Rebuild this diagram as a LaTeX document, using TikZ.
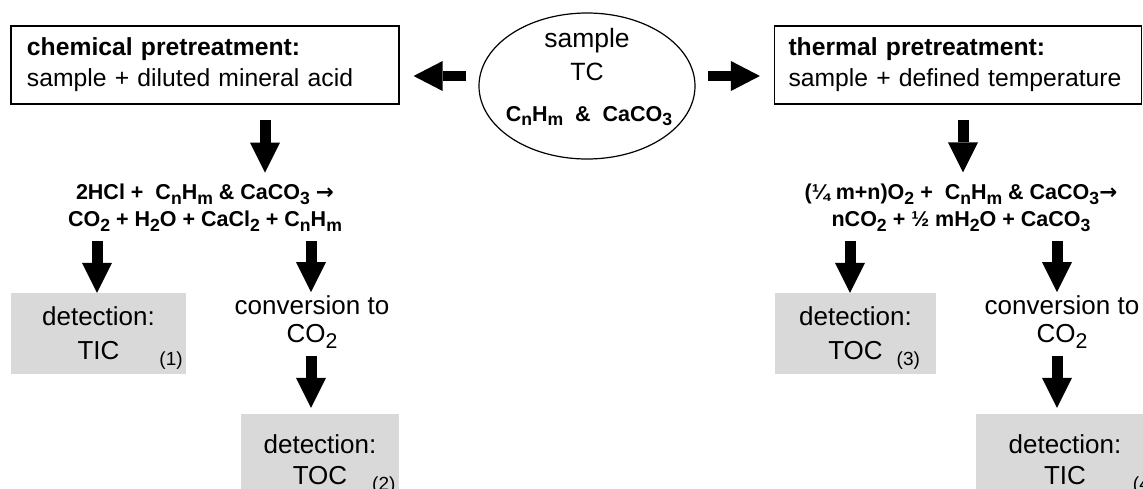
\documentclass[tikz,border=0pt]{standalone}
\usepackage{fontspec}
\setmainfont{Liberation Sans}
\newfontfamily\dvs{DejaVu Sans}
\usetikzlibrary{arrows.meta,shapes.geometric}
\definecolor{detgray}{RGB}{217,217,217}
\newcommand\sbs[1]{\raisebox{-0.42ex}{\scalebox{0.82}{#1}}}
\newcommand\rarr{{\dvs\bfseries →}}
\newcommand\fs[2]{\fontsize{#1}{#2}\selectfont}
\newcommand\numlab[1]{\raisebox{-6pt}[0pt][0pt]{\fs{19}{19}#1}}
\begin{document}
\begin{tikzpicture}[x=1pt,y=-1pt,
  box/.style={draw, line width=1.2pt, align=left, inner xsep=16pt, inner ysep=0pt,
    minimum height=78pt, font=\fs{24.7}{31}},
  detbox/.style={fill=detgray, align=center, inner sep=0pt},
  eqn/.style={align=center, inner sep=0pt, font=\bfseries\fs{21.5}{27}},
  conv/.style={align=center, inner sep=0pt, font=\fs{26}{28}},
  ctext/.style={anchor=base, inner sep=0pt},
  dn/.style={line width=11pt, -{Triangle[width=30pt,length=30pt,line width=0pt]}},
  hz/.style={line width=10.5pt, -{Triangle[width=30pt,length=29pt,line width=0pt]}}]
\clip (0,0) rectangle (1143,488);

% top row
\node[box, text width=356pt] (chem) at (205,65)
  {\textbf{chemical pretreatment:}\\sample + diluted mineral acid};
\node[box, text width=339pt, inner xsep=14pt] (therm) at (958,65)
  {\textbf{thermal pretreatment:}\\sample + defined temperature};
\node[ellipse, draw, line width=1.2pt, minimum width=216pt, minimum height=146pt,
  inner sep=0pt] (sample) at (587,86) {};
\node[ctext, font=\fs{26.5}{30}] (samp1) at (587,47) {sample};
\node[ctext, font=\fs{25}{30}] (samp2) at (587,80) {TC};
\node[ctext, font=\bfseries\fs{21.5}{25}] (samp3) at (589,121)
  {C\sbs{n}H\sbs{m}\ \ \&\ \ CaCO\sbs{3}};

% equations
\node[eqn] (eq1) at (205,208)
  {2HCl +\ \ C\sbs{n}H\sbs{m} \& CaCO\sbs{3} \rarr\\
   CO\sbs{2} + H\sbs{2}O + CaCl\sbs{2} + C\sbs{n}H\sbs{m}};
\node[eqn] (eq2) at (961,208)
  {(¼ m+n)O\sbs{2} +\ \ C\sbs{n}H\sbs{m} \& CaCO\sbs{3}\rarr\\
   nCO\sbs{2} + ½ mH\sbs{2}O + CaCO\sbs{3}};

% conversions
\node[conv] (conv1) at (312,322) {conversion to\\CO\sbs{2}};
\node[conv] (conv2) at (1062,322) {conversion to\\CO\sbs{2}};

% detection boxes
\node[detbox, font=\fs{26}{34}, minimum width=175pt, minimum height=81pt] (det1) at (98.5,333.5)
  {detection:\\TIC\rlap{\hspace{40pt}\numlab{(1)}}};
\node[detbox, font=\fs{26}{34}, minimum width=161pt, minimum height=81pt] (det3) at (855.5,333.5)
  {detection:\\TOC\rlap{\hspace{14pt}\numlab{(3)}}};
\node[detbox, font=\fs{26}{31}, minimum width=158pt, minimum height=92pt] (det2) at (320,460)
  {detection:\\TOC\rlap{\hspace{25pt}\numlab{(2)}}};
\node[detbox, font=\fs{26}{31}, minimum width=178pt, minimum height=92pt] (det4) at (1065,460)
  {detection:\\TIC\rlap{\hspace{47pt}\numlab{(4)}}};

% arrow positions
\coordinate (ax1) at (265,0);
\coordinate (ax2) at (97,0);
\coordinate (ax3) at (311,0);
\coordinate (ax5) at (963,0);
\coordinate (ax6) at (850,0);
\coordinate (ax7) at (1057,0);
\coordinate (hy) at (0,76);

% horizontal arrows
\draw[hz, shorten <=12pt, shorten >=14pt] (sample.west |- hy) -- (chem.east |- hy);
\draw[hz, shorten <=12pt, shorten >=14pt] (sample.east |- hy) -- (therm.west |- hy);

% left branch
\draw[dn, shorten <=15pt, shorten >=11.6pt] (chem.south -| ax1) -- (eq1.north -| ax1);
\draw[dn, shorten <=9pt] (eq1.south -| ax2) -- (det1.north -| ax2);
\draw[dn, shorten <=9pt, shorten >=3.4pt] (eq1.south -| ax3) -- (conv1.north -| ax3);
\draw[dn, shorten <=7pt, shorten >=6pt] (conv1.south -| ax3) -- (det2.north -| ax3);

% right branch
\draw[dn, shorten <=15pt, shorten >=11.6pt] (therm.south -| ax5) -- (eq2.north -| ax5);
\draw[dn, shorten <=9pt] (eq2.south -| ax6) -- (det3.north -| ax6);
\draw[dn, shorten <=9pt, shorten >=3.4pt] (eq2.south -| ax7) -- (conv2.north -| ax7);
\draw[dn, shorten <=7pt, shorten >=6pt] (conv2.south -| ax7) -- (det4.north -| ax7);
\end{tikzpicture}
\end{document}
